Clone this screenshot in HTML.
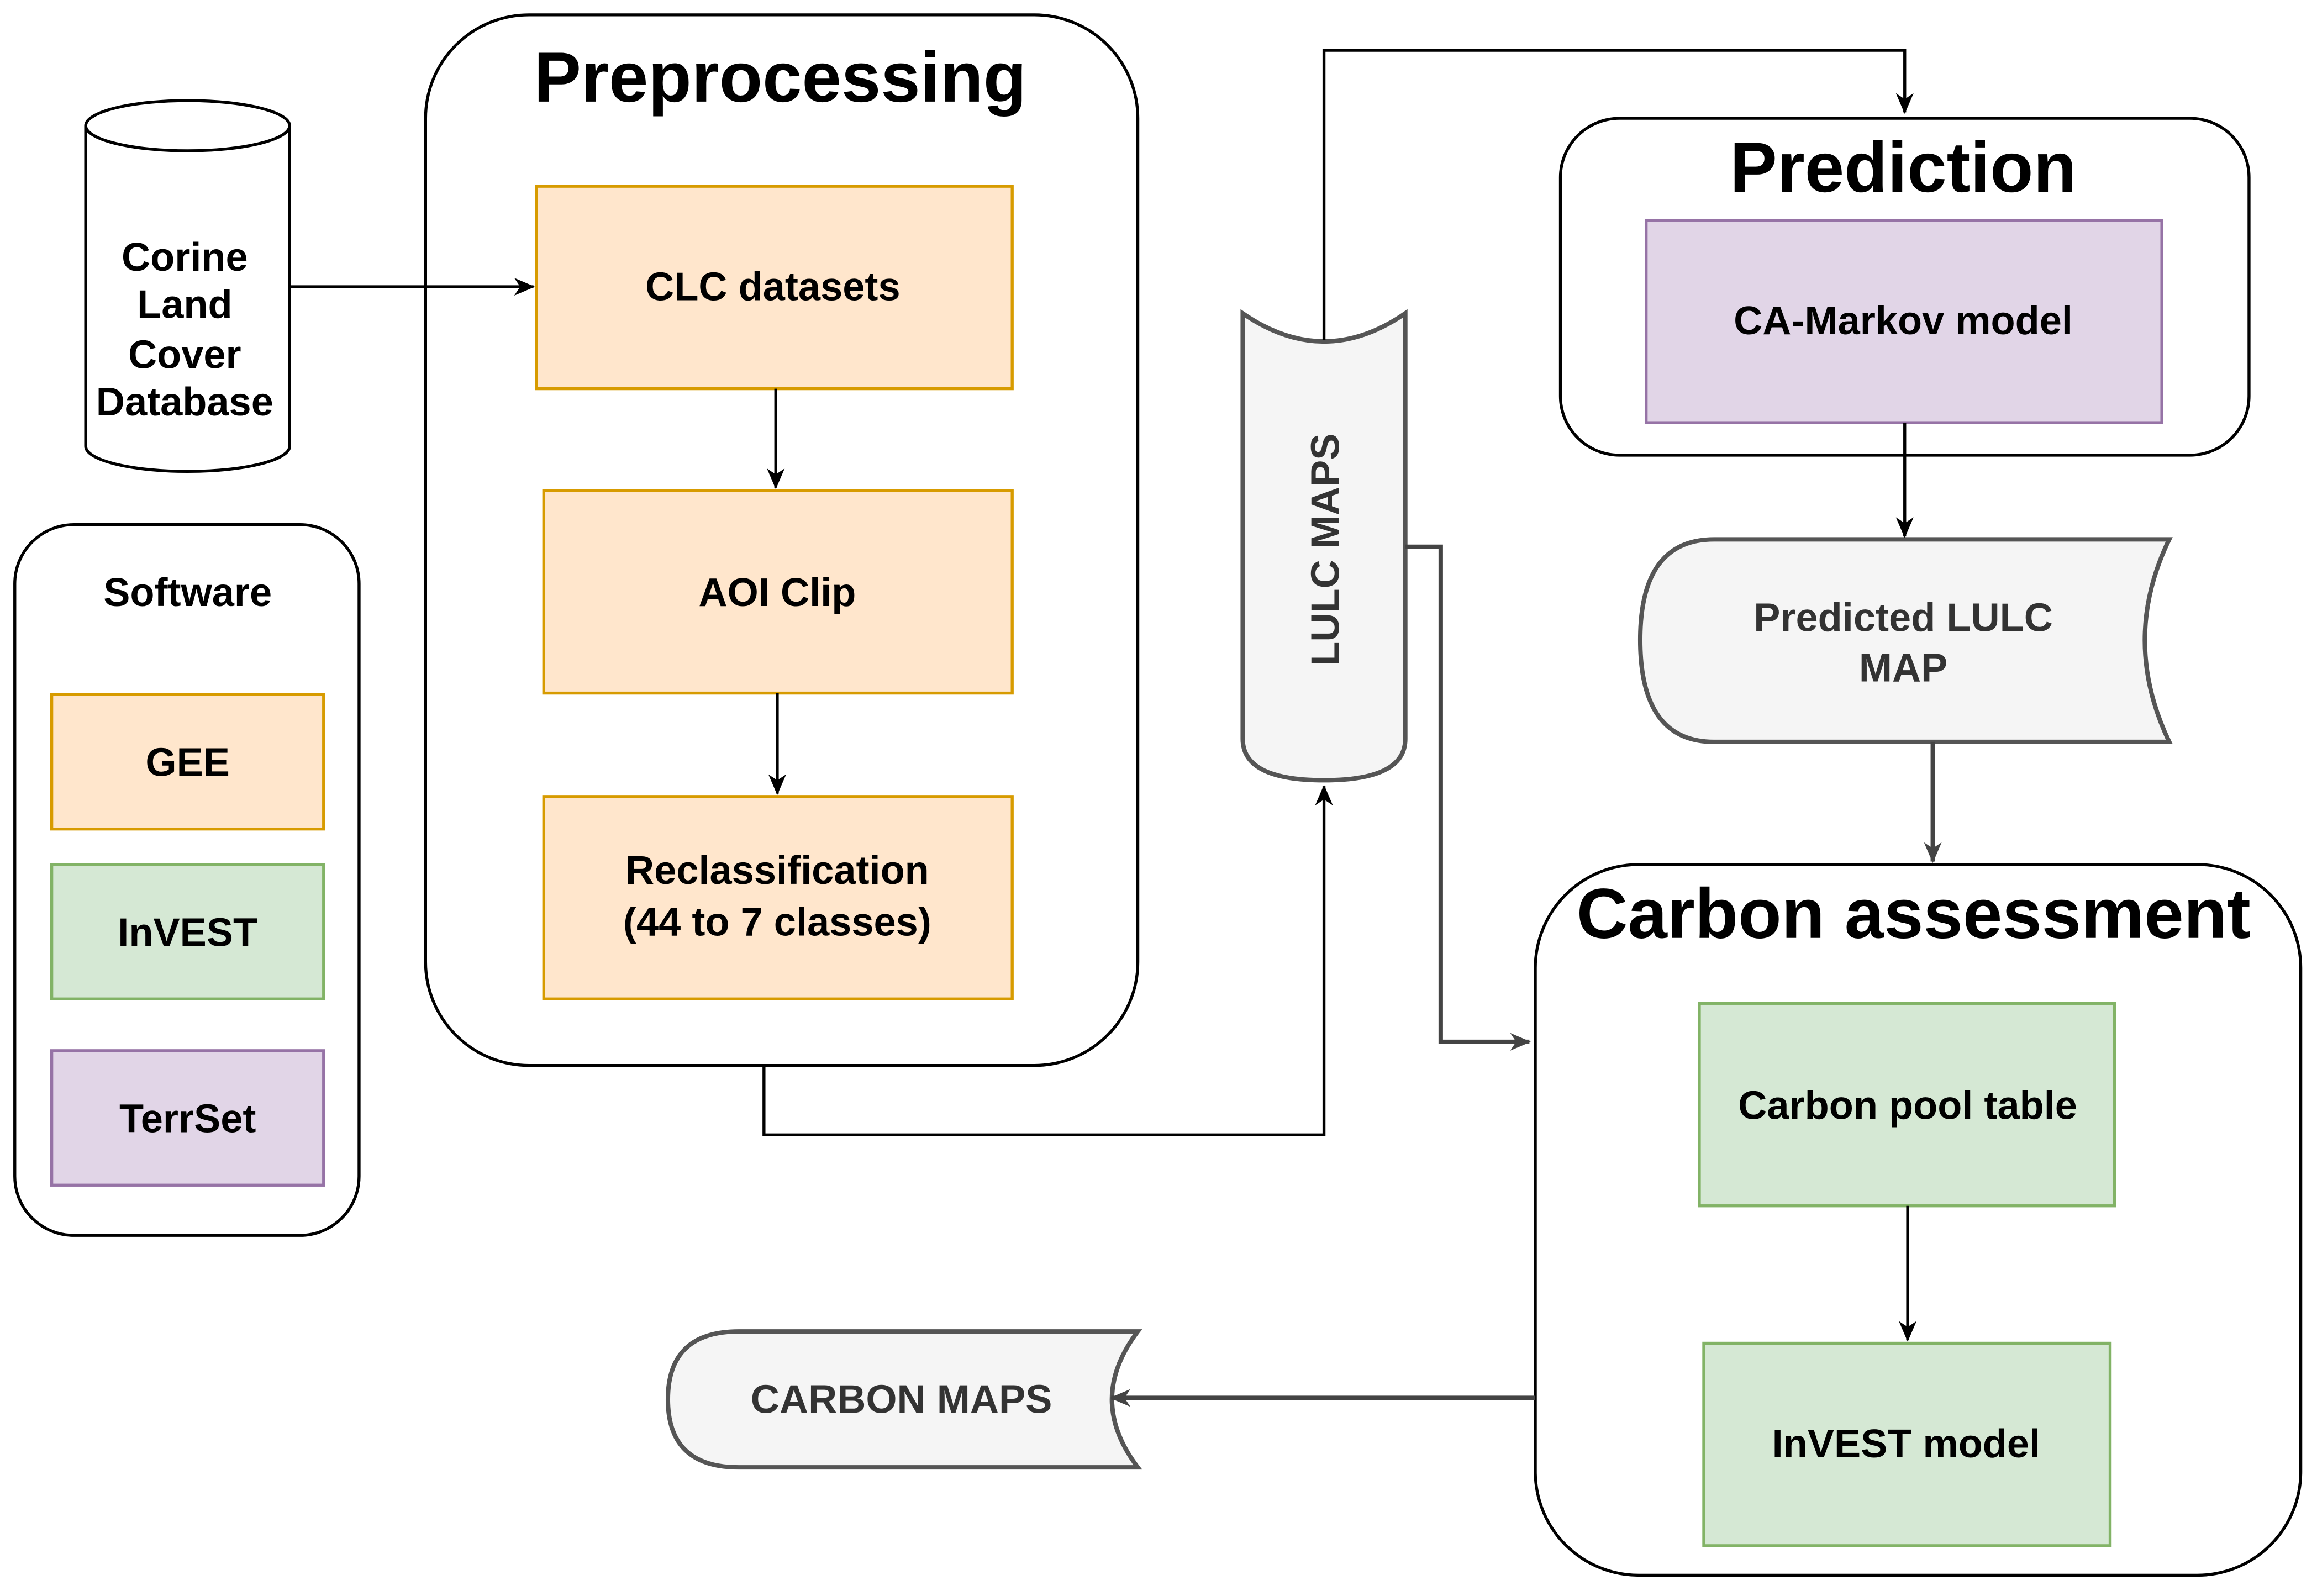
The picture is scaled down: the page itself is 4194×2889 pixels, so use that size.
<!DOCTYPE html>
<html><head><meta charset="utf-8"><style>
html,body{margin:0;padding:0;background:#fff}
svg{display:block}
text{font-family:"Liberation Sans",Arial,sans-serif;font-weight:bold;text-anchor:middle;dominant-baseline:middle}
</style></head><body>
<svg width="4194" height="2889" viewBox="0 0 1568 1080" xmlns="http://www.w3.org/2000/svg">
<defs>
<marker id="a" markerWidth="14" markerHeight="14" refX="13" refY="7" orient="auto" markerUnits="userSpaceOnUse">
<path d="M0,1 L14,7 L0,13 L4,7 z" fill="#000"/></marker>
<marker id="g" markerWidth="14" markerHeight="14" refX="13" refY="7" orient="auto" markerUnits="userSpaceOnUse">
<path d="M0,1 L14,7 L0,13 L4,7 z" fill="#444"/></marker>
</defs>
<rect width="1568" height="1080" fill="#fff"/>
<g fill="none" stroke="#000" stroke-width="2">
<path d="M58,85 L58,302 A69,17 0 0 0 196,302 L196,85" fill="#fff"/>
<ellipse cx="127" cy="85" rx="69" ry="17" fill="#fff"/>
<rect x="10" y="355" width="233" height="481" rx="40"/>
<rect x="288" y="10" width="482" height="711" rx="70"/>
<rect x="1056" y="80" width="466" height="228" rx="40"/>
<rect x="1039" y="585" width="518" height="481" rx="70"/>
</g>
<g stroke-width="2">
<rect x="35" y="470" width="184" height="91" fill="#ffe6cc" stroke="#d79b00"/>
<rect x="35" y="585" width="184" height="91" fill="#d5e8d4" stroke="#82b366"/>
<rect x="35" y="711" width="184" height="91" fill="#e1d5e7" stroke="#9673a6"/>
<rect x="363" y="126" width="322" height="137" fill="#ffe6cc" stroke="#d79b00"/>
<rect x="368" y="332" width="317" height="137" fill="#ffe6cc" stroke="#d79b00"/>
<rect x="368" y="539" width="317" height="137" fill="#ffe6cc" stroke="#d79b00"/>
<rect x="1114" y="149" width="349" height="137" fill="#e1d5e7" stroke="#9673a6"/>
<rect x="1150" y="679" width="281" height="137" fill="#d5e8d4" stroke="#82b366"/>
<rect x="1153" y="909" width="275" height="137" fill="#d5e8d4" stroke="#82b366"/>
</g>
<path d="M841,212 Q896,250 951,212 L951,500 Q951,528 896,528 Q841,528 841,500 Z" fill="#f5f5f5" stroke="#555" stroke-width="3"/>
<path d="M1160,365 L1468,365 Q1435,433 1468,502 L1160,502 Q1110,502 1110,433 Q1110,365 1160,365 Z" fill="#f5f5f5" stroke="#555" stroke-width="3"/>
<path d="M500,901 L770,901 Q735,947 770,993 L500,993 Q452,993 452,947 Q452,901 500,901 Z" fill="#f5f5f5" stroke="#555" stroke-width="3"/>
<g fill="none" stroke-width="2">
<path d="M196,194 L361,194" stroke="#000" marker-end="url(#a)"/>
<path d="M525,263 L525,330" stroke="#000" marker-end="url(#a)"/>
<path d="M526,469 L526,537" stroke="#000" marker-end="url(#a)"/>
<path d="M517,721 L517,768 L896,768 L896,532" stroke="#000" marker-end="url(#a)"/>
<path d="M896,230 L896,34 L1289,34 L1289,76" stroke="#000" marker-end="url(#a)"/>
<path d="M1289,286 L1289,363" stroke="#000" marker-end="url(#a)"/>
<path d="M1308,502 L1308,583" stroke="#444" stroke-width="3" marker-end="url(#g)"/>
<path d="M951,370 L975,370 L975,705 L1035,705" stroke="#444" stroke-width="3" marker-end="url(#g)"/>
<path d="M1291,816 L1291,907" stroke="#000" marker-end="url(#a)"/>
<path d="M1039,946 L752,946" stroke="#444" stroke-width="3" marker-end="url(#g)"/>
</g>
<g font-size="27" fill="#000">
<text x="125" y="176">Corine</text>
<text x="125" y="208">Land</text>
<text x="125" y="242">Cover</text>
<text x="125" y="274">Database</text>
<text x="127" y="403">Software</text>
<text x="127" y="518">GEE</text>
<text x="127" y="633">InVEST</text>
<text x="127" y="759">TerrSet</text>
<text x="523" y="196">CLC datasets</text>
<text x="526" y="403">AOI Clip</text>
<text x="526" y="591">Reclassification</text>
<text x="526" y="626">(44 to 7 classes)</text>
<text x="1288" y="219">CA-Markov model</text>
<text x="1291" y="750">Carbon pool table</text>
<text x="1290" y="979">InVEST model</text>
</g>
<g font-size="27" fill="#333">
<text x="1288" y="420">Predicted LULC</text>
<text x="1288" y="454">MAP</text>
<text x="610" y="949">CARBON MAPS</text>
<text transform="translate(899,372) rotate(-90)">LULC MAPS</text>
</g>
<g font-size="48" fill="#000">
<text x="528" y="56">Preprocessing</text>
<text x="1288" y="117">Prediction</text>
<text x="1295" y="622">Carbon assessment</text>
</g>
</svg>
</body></html>
